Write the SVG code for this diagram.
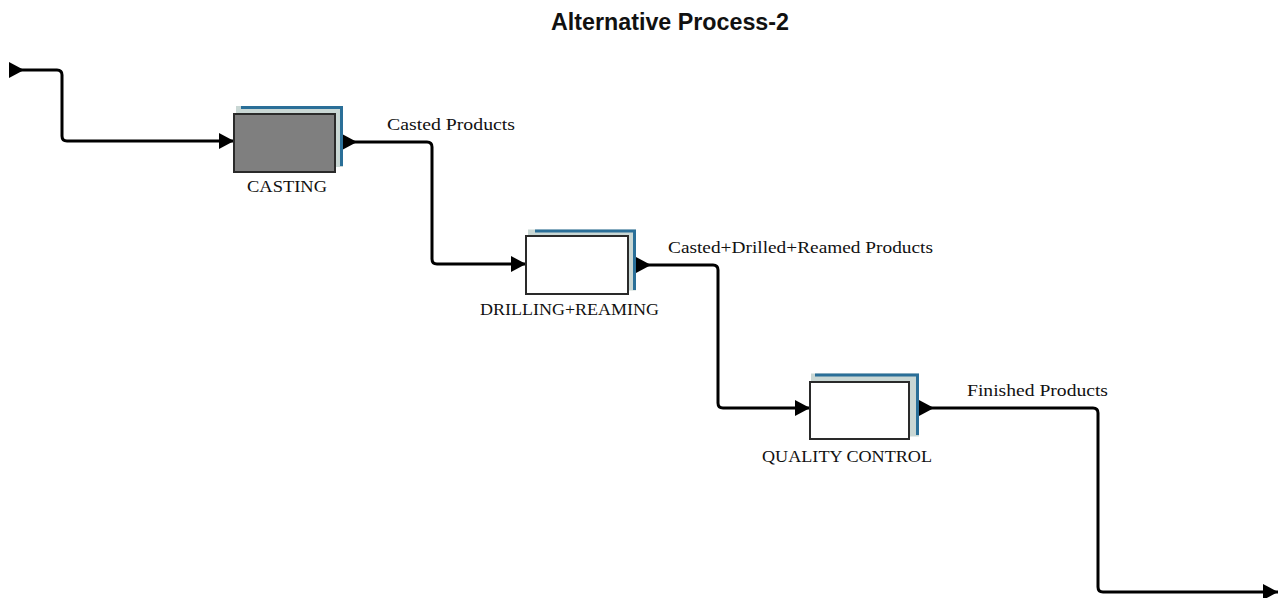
<svg xmlns="http://www.w3.org/2000/svg" width="1281" height="598" viewBox="0 0 1281 598">
  <style>
    .title { font-family: "Liberation Sans", Arial, sans-serif; font-weight: bold; font-size: 23px; fill: #111; }
    .lbl { font-family: "Liberation Serif", "Times New Roman", serif; font-size: 16.5px; fill: #111; }
    .back { fill: #c9d7d4; stroke: none; }
    .edge { fill: none; stroke: #2a6f98; stroke-width: 3; }
    .front { stroke: #2a2a2a; stroke-width: 2; }
    .flow { fill: none; stroke: #000; stroke-width: 3; stroke-linejoin: round; }
  </style>
  <defs>
    <!-- arrowhead at the end of a flow, tip on the end point -->
    <marker id="head" markerUnits="userSpaceOnUse" markerWidth="16" markerHeight="16" refX="15" refY="8" orient="auto">
      <path d="M0,0 L15,8 L0,16 Z" fill="#000"/>
    </marker>
    <!-- triangle at the start of a flow, pointing along it -->
    <marker id="tail" markerUnits="userSpaceOnUse" markerWidth="16" markerHeight="16" refX="0" refY="8" orient="auto">
      <path d="M0,0 L15,8 L0,16 Z" fill="#000"/>
    </marker>
  </defs>

  <rect width="1281" height="598" fill="#fff"/>

  <text class="title" x="670" y="30" text-anchor="middle" textLength="238" lengthAdjust="spacingAndGlyphs">Alternative Process-2</text>

  <g id="connectors">
    <path class="flow" d="M9,70 H57 Q62,70 62,75 V136 Q62,141 67,141 H234" marker-start="url(#tail)" marker-end="url(#head)"/>
    <path class="flow" d="M342,142 H427 Q432,142 432,147 V259 Q432,264 437,264 H526" marker-start="url(#tail)" marker-end="url(#head)"/>
    <path class="flow" d="M636,265 H713 Q718,265 718,270 V403 Q718,408 723,408 H810" marker-start="url(#tail)" marker-end="url(#head)"/>
    <path class="flow" d="M919,408 H1093 Q1098,408 1098,413 V587 Q1098,592 1103,592 H1278" marker-start="url(#tail)" marker-end="url(#head)"/>
    <text class="lbl" x="387" y="130" textLength="128" lengthAdjust="spacingAndGlyphs">Casted Products</text>
    <text class="lbl" x="668" y="253" textLength="265" lengthAdjust="spacingAndGlyphs">Casted+Drilled+Reamed Products</text>
    <text class="lbl" x="967" y="396" textLength="141" lengthAdjust="spacingAndGlyphs">Finished Products</text>
  </g>

  <g id="casting">
    <rect class="back" x="236" y="106" width="107" height="61"/>
    <polyline class="edge" points="241,107.5 341.5,107.5 341.5,166"/>
    <rect class="front" x="234" y="114" width="101" height="58" fill="#7f7f7f"/>
    <text class="lbl" x="287" y="192" text-anchor="middle" textLength="80" lengthAdjust="spacingAndGlyphs">CASTING</text>
  </g>

  <g id="drilling-reaming">
    <rect class="back" x="528" y="229.5" width="108" height="61"/>
    <polyline class="edge" points="535,231 634.5,231 634.5,290"/>
    <rect class="front" x="526" y="236" width="102" height="58" fill="#fff"/>
    <text class="lbl" x="569.5" y="315" text-anchor="middle" textLength="179" lengthAdjust="spacingAndGlyphs">DRILLING+REAMING</text>
  </g>

  <g id="quality-control">
    <rect class="back" x="811" y="373.5" width="108" height="63"/>
    <polyline class="edge" points="815,375 917.5,375 917.5,435"/>
    <rect class="front" x="810" y="382" width="99" height="57" fill="#fff"/>
    <text class="lbl" x="847" y="462" text-anchor="middle" textLength="170" lengthAdjust="spacingAndGlyphs">QUALITY CONTROL</text>
  </g>
</svg>
